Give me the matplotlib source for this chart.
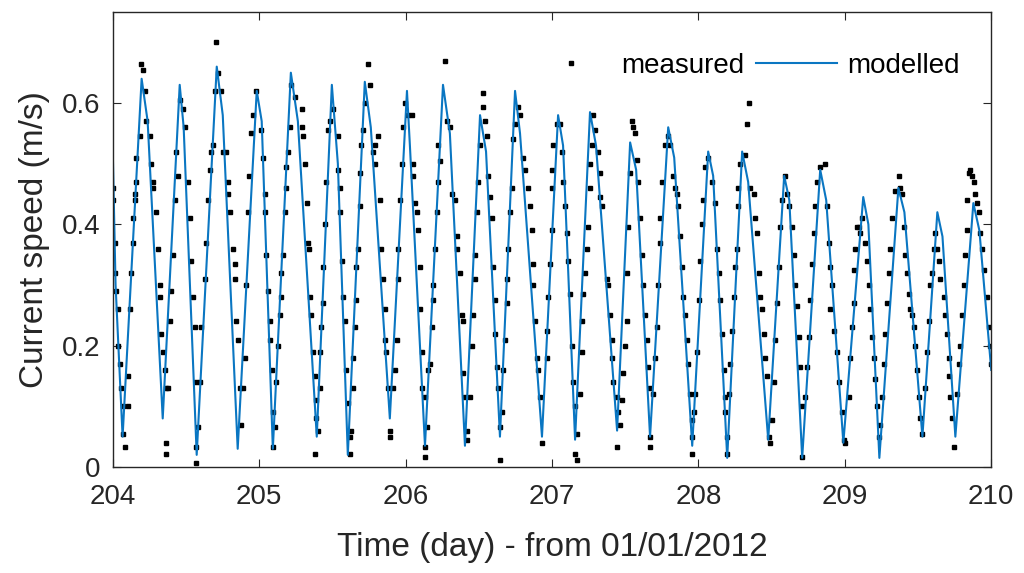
import numpy as np
import matplotlib
matplotlib.use("Agg")
import matplotlib.pyplot as plt

plt.rcParams['font.family'] = ['Liberation Sans', 'DejaVu Sans']

day0 = 204  # days counted from 01/01/2012

# modelled current speed, vertices (day offset from day0, m/s)
mod_t = [0.000, 0.020, 0.068,
         0.198, 0.239, 0.342, 0.458, 0.485, 0.574, 0.711, 0.752, 0.854,
         0.984, 1.018, 1.094, 1.217, 1.265, 1.394, 1.497, 1.538, 1.606,
         1.722, 1.763, 1.893, 2.010, 2.030, 2.133, 2.256, 2.303, 2.406,
         2.509, 2.550, 2.645, 2.748, 2.782, 2.932, 3.042, 3.076, 3.158,
         3.260, 3.301, 3.445, 3.534, 3.575, 3.670, 3.794, 3.835, 3.958,
         4.067, 4.101, 4.197, 4.299, 4.340, 4.477, 4.586, 4.621, 4.709,
         4.832, 4.873, 4.990, 5.126, 5.161, 5.236, 5.366, 5.407, 5.530,
         5.632, 5.667, 5.755, 5.878, 5.919, 6.000]
mod_v = [0.53, 0.30, 0.05,
         0.64, 0.57, 0.08, 0.63, 0.56, 0.02, 0.66, 0.58, 0.03,
         0.62, 0.57, 0.03, 0.65, 0.57, 0.05, 0.63, 0.50, 0.02,
         0.635, 0.56, 0.08, 0.62, 0.53, 0.035, 0.63, 0.55, 0.035,
         0.58, 0.52, 0.05, 0.62, 0.55, 0.05, 0.58, 0.53, 0.045,
         0.585, 0.53, 0.06, 0.535, 0.49, 0.05, 0.56, 0.51, 0.035,
         0.52, 0.48, 0.015, 0.52, 0.47, 0.045, 0.48, 0.44, 0.015,
         0.49, 0.44, 0.04, 0.445, 0.40, 0.015, 0.46, 0.42, 0.05,
         0.42, 0.38, 0.05, 0.435, 0.39, 0.16]

# measured current speed (day offset, m/s)
meas_t = [0.002, 0.002, 0.014, 0.014, 0.025, 0.036, 0.036, 0.048, 0.059, 0.070, 0.070, 0.082,
          0.105, 0.105, 0.116, 0.127, 0.139, 0.139, 0.150, 0.150, 0.162, 0.162, 0.184, 0.196,
          0.207, 0.219, 0.230, 0.253, 0.264, 0.276, 0.276, 0.298, 0.310, 0.321, 0.321, 0.332,
          0.344, 0.355, 0.367, 0.367, 0.367, 0.378, 0.389, 0.401, 0.412, 0.424, 0.435, 0.446,
          0.458, 0.481, 0.492, 0.515, 0.526, 0.537, 0.549, 0.560, 0.572, 0.572, 0.572, 0.583,
          0.594, 0.606, 0.629, 0.640, 0.651, 0.663, 0.674, 0.686, 0.697, 0.708, 0.720, 0.743,
          0.754, 0.777, 0.788, 0.788, 0.799, 0.822, 0.834, 0.834, 0.845, 0.856, 0.868, 0.879,
          0.891, 0.902, 0.913, 0.925, 0.932, 0.948, 0.959, 0.982,
          1.016, 1.028, 1.039, 1.039, 1.050, 1.062, 1.073, 1.073, 1.085, 1.096, 1.107, 1.096,
          1.119, 1.130, 1.141, 1.153, 1.153, 1.164, 1.176, 1.187, 1.187, 1.198, 1.210, 1.221,
          1.244, 1.290, 1.290, 1.301, 1.312, 1.324, 1.335, 1.342, 1.347, 1.358, 1.369, 1.381,
          1.392, 1.392, 1.404, 1.381, 1.415, 1.415, 1.426, 1.438, 1.438, 1.449, 1.460, 1.472,
          1.483, 1.506, 1.540, 1.540, 1.552, 1.552, 1.563, 1.574, 1.586, 1.597, 1.608, 1.620,
          1.620, 1.631, 1.643, 1.643, 1.654, 1.665, 1.665, 1.677, 1.688, 1.688, 1.699, 1.711,
          1.722, 1.745, 1.756, 1.779, 1.791, 1.791, 1.813, 1.825, 1.836, 1.847, 1.859, 1.859,
          1.870, 1.882, 1.893, 1.893, 1.916, 1.927, 1.939, 1.950, 1.950, 1.961, 1.973, 1.984,
          1.996, 2.019, 2.042, 2.053, 2.053, 2.064, 2.076, 2.087, 2.098, 2.098, 2.110, 2.110,
          2.133, 2.133, 2.133, 2.144, 2.155, 2.167, 2.178, 2.189, 2.189, 2.201, 2.212, 2.223,
          2.235, 2.223, 2.269, 2.281, 2.303, 2.315, 2.337, 2.349, 2.349, 2.372, 2.383, 2.394,
          2.394, 2.406, 2.417, 2.417, 2.440, 2.451, 2.463, 2.474, 2.474, 2.486, 2.497, 2.508,
          2.531, 2.531, 2.543, 2.554, 2.565, 2.577, 2.588, 2.600, 2.611, 2.611, 2.622, 2.634,
          2.645, 2.645, 2.656, 2.668, 2.679, 2.691, 2.691, 2.702, 2.713, 2.725, 2.736, 2.748,
          2.770, 2.782, 2.805, 2.816, 2.839, 2.850, 2.861, 2.873, 2.873, 2.884, 2.896, 2.907,
          2.918, 2.930, 2.964, 2.964, 2.975, 2.987, 2.998, 2.998,
          2.998, 3.010, 3.033, 3.055, 3.067, 3.078, 3.089, 3.101, 3.112, 3.124, 3.135, 3.146,
          3.158, 3.169, 3.158, 3.169, 3.192, 3.203, 3.203, 3.215, 3.226, 3.237, 3.249, 3.260,
          3.260, 3.272, 3.283, 3.294, 3.317, 3.329, 3.329, 3.340, 3.374, 3.386, 3.397, 3.408,
          3.408, 3.420, 3.443, 3.454, 3.465, 3.443, 3.477, 3.488, 3.499, 3.511, 3.511, 3.522,
          3.534, 3.545, 3.556, 3.568, 3.579, 3.590, 3.602, 3.613, 3.625, 3.636, 3.647, 3.659,
          3.670, 3.670, 3.670, 3.693, 3.704, 3.716, 3.727, 3.739, 3.739, 3.750, 3.773, 3.795,
          3.807, 3.830, 3.841, 3.852, 3.864, 3.875, 3.887, 3.898, 3.909, 3.921, 3.932, 3.943,
          3.955, 3.955, 3.955,
          3.967, 3.978, 3.990, 4.001, 4.013, 4.024, 4.035, 4.047, 4.069, 4.092, 4.115, 4.126,
          4.138, 4.149, 4.161, 4.172, 4.183, 4.183, 4.195, 4.195, 4.206, 4.218, 4.229, 4.240,
          4.252, 4.263, 4.274, 4.274, 4.286, 4.320, 4.343, 4.331, 4.354, 4.377, 4.388, 4.400,
          4.411, 4.422, 4.434, 4.445, 4.457, 4.468, 4.479, 4.491, 4.502, 4.514, 4.525, 4.536,
          4.548, 4.559, 4.571, 4.593, 4.605, 4.616, 4.639, 4.650, 4.662, 4.673, 4.684, 4.696,
          4.707, 4.707, 4.730, 4.742, 4.753, 4.764, 4.776, 4.787, 4.798, 4.810, 4.833, 4.866,
          4.878, 4.889, 4.901, 4.912,
          4.901, 4.924, 4.946, 4.958, 4.981, 4.992, 5.003, 5.026, 5.038, 5.049, 5.060, 5.060,
          5.072, 5.083, 5.095, 5.106, 5.117, 5.140, 5.152, 5.163, 5.174, 5.186, 5.197, 5.208,
          5.220, 5.231, 5.243, 5.254, 5.266, 5.277, 5.288, 5.300, 5.311, 5.322, 5.345, 5.368,
          5.379, 5.391, 5.402, 5.414, 5.425, 5.436, 5.448, 5.459, 5.470, 5.482, 5.493, 5.505,
          5.516, 5.527, 5.550, 5.562, 5.573, 5.584, 5.596, 5.607, 5.618, 5.630, 5.641, 5.653,
          5.675, 5.687, 5.698, 5.709, 5.709, 5.721, 5.732, 5.744, 5.767, 5.778, 5.789, 5.801,
          5.812, 5.824, 5.835, 5.835, 5.846, 5.858, 5.869, 5.880, 5.892, 5.903, 5.915, 5.926,
          5.937, 5.949, 5.972, 5.983, 5.994, 5.998]
meas_v = [0.46, 0.44, 0.37, 0.32, 0.29, 0.26, 0.20, 0.17, 0.13, 0.10, 0.055, 0.033,
          0.10, 0.15, 0.26, 0.32, 0.41, 0.37, 0.44, 0.45, 0.47, 0.51, 0.545, 0.665,
          0.655, 0.62, 0.57, 0.545, 0.50, 0.47, 0.46, 0.42, 0.36, 0.30, 0.28, 0.22,
          0.19, 0.16, 0.13, 0.04, 0.022, 0.13, 0.24, 0.29, 0.35, 0.44, 0.52, 0.48,
          0.605, 0.59, 0.56, 0.47, 0.41, 0.34, 0.28, 0.23, 0.14, 0.033, 0.006, 0.066,
          0.14, 0.23, 0.31, 0.37, 0.44, 0.49, 0.52, 0.53, 0.62, 0.70, 0.65, 0.62,
          0.52, 0.52, 0.45, 0.47, 0.42, 0.36, 0.335, 0.31, 0.24, 0.21, 0.13, 0.07,
          0.13, 0.18, 0.30, 0.42, 0.48, 0.55, 0.58, 0.62,
          0.555, 0.51, 0.45, 0.42, 0.35, 0.29, 0.24, 0.21, 0.16, 0.09, 0.066, 0.033,
          0.14, 0.20, 0.25, 0.28, 0.32, 0.35, 0.42, 0.46, 0.495, 0.52, 0.56, 0.63,
          0.61, 0.59, 0.56, 0.545, 0.50, 0.435, 0.37, 0.36, 0.28, 0.25, 0.19, 0.15,
          0.11, 0.08, 0.06, 0.022, 0.13, 0.19, 0.23, 0.27, 0.33, 0.40, 0.47, 0.555,
          0.57, 0.59, 0.545, 0.49, 0.46, 0.42, 0.34, 0.28, 0.24, 0.16, 0.105, 0.05,
          0.022, 0.06, 0.13, 0.18, 0.23, 0.275, 0.33, 0.36, 0.43, 0.485, 0.53, 0.555,
          0.60, 0.665, 0.63, 0.52, 0.50, 0.53, 0.545, 0.44, 0.36, 0.31, 0.26, 0.21,
          0.19, 0.13, 0.06, 0.05, 0.13, 0.16, 0.21, 0.31, 0.36, 0.44, 0.50, 0.56,
          0.60, 0.58, 0.58, 0.50, 0.48, 0.435, 0.42, 0.39, 0.33, 0.26, 0.19, 0.13,
          0.115, 0.033, 0.017, 0.066, 0.16, 0.17, 0.23, 0.275, 0.30, 0.36, 0.42, 0.47,
          0.505, 0.53, 0.67, 0.57, 0.56, 0.45, 0.44, 0.38, 0.36, 0.32, 0.25, 0.24,
          0.155, 0.115, 0.06, 0.044, 0.115, 0.20, 0.25, 0.31, 0.35, 0.42, 0.47, 0.53,
          0.616, 0.594, 0.57, 0.545, 0.48, 0.445, 0.41, 0.33, 0.275, 0.22, 0.165, 0.13,
          0.066, 0.011, 0.09, 0.16, 0.21, 0.27, 0.31, 0.36, 0.42, 0.46, 0.54, 0.566,
          0.594, 0.58, 0.51, 0.49, 0.46, 0.43, 0.39, 0.335, 0.30, 0.24, 0.18, 0.16,
          0.115, 0.04, 0.18, 0.225, 0.28, 0.335, 0.39, 0.46,
          0.49, 0.53, 0.566, 0.566, 0.52, 0.47, 0.43, 0.385, 0.34, 0.285, 0.20, 0.14,
          0.10, 0.055, 0.022, 0.011, 0.12, 0.19, 0.24, 0.285, 0.32, 0.36, 0.395, 0.46,
          0.50, 0.53, 0.58, 0.555, 0.52, 0.485, 0.445, 0.43, 0.31, 0.30, 0.25, 0.21,
          0.18, 0.14, 0.115, 0.09, 0.07, 0.033, 0.11, 0.155, 0.20, 0.24, 0.32, 0.395,
          0.485, 0.57, 0.56, 0.55, 0.506, 0.47, 0.41, 0.35, 0.30, 0.25, 0.21, 0.165,
          0.13, 0.05, 0.033, 0.12, 0.18, 0.23, 0.30, 0.37, 0.41, 0.47, 0.53, 0.545,
          0.53, 0.48, 0.46, 0.45, 0.43, 0.38, 0.33, 0.28, 0.25, 0.21, 0.17, 0.12,
          0.077, 0.05, 0.022,
          0.09, 0.12, 0.19, 0.275, 0.34, 0.40, 0.44, 0.495, 0.51, 0.47, 0.435, 0.36,
          0.32, 0.275, 0.22, 0.16, 0.115, 0.09, 0.05, 0.022, 0.12, 0.17, 0.225, 0.28,
          0.33, 0.36, 0.43, 0.46, 0.50, 0.515, 0.60, 0.566, 0.46, 0.45, 0.41, 0.385,
          0.32, 0.28, 0.26, 0.22, 0.18, 0.15, 0.05, 0.04, 0.077, 0.14, 0.21, 0.27,
          0.33, 0.395, 0.44, 0.48, 0.45, 0.43, 0.395, 0.35, 0.30, 0.265, 0.215, 0.165,
          0.10, 0.017, 0.115, 0.165, 0.215, 0.275, 0.335, 0.385, 0.43, 0.47, 0.495, 0.50,
          0.43, 0.37, 0.33, 0.30,
          0.26, 0.225, 0.19, 0.14, 0.09, 0.044, 0.04, 0.115, 0.18, 0.23, 0.27, 0.325,
          0.36, 0.395, 0.395, 0.385, 0.41, 0.37, 0.34, 0.30, 0.26, 0.215, 0.18, 0.145,
          0.10, 0.05, 0.07, 0.115, 0.17, 0.22, 0.27, 0.32, 0.36, 0.41, 0.455, 0.48,
          0.46, 0.45, 0.395, 0.35, 0.32, 0.285, 0.26, 0.25, 0.23, 0.20, 0.16, 0.115,
          0.08, 0.055, 0.13, 0.19, 0.24, 0.30, 0.32, 0.36, 0.385, 0.36, 0.34, 0.31,
          0.28, 0.25, 0.22, 0.18, 0.15, 0.115, 0.08, 0.033, 0.12, 0.17, 0.20, 0.25,
          0.30, 0.35, 0.39, 0.44, 0.485, 0.49, 0.48, 0.47, 0.45, 0.435, 0.42, 0.385,
          0.36, 0.325, 0.28, 0.23, 0.20, 0.17]

x_ticks = [204, 205, 206, 207, 208, 209, 210]
y_ticks = [0, 0.2, 0.4, 0.6]
y_tick_labels = ['0', '0.2', '0.4', '0.6']

fig = plt.figure(figsize=(10.24, 5.73), dpi=100)
ax = fig.add_axes([0.110, 0.185, 0.858, 0.794])

ax.plot(day0 + np.array(meas_t), meas_v, linestyle='none', marker='s', markersize=2.2,
        color='black', label='measured')
ax.plot(day0 + np.array(mod_t), mod_v, color='#0a76c2', linewidth=1.5, label='modelled')

ax.set_xlim(204, 210)
ax.set_ylim(0, 0.75)
ax.set_xticks(x_ticks)
ax.set_yticks(y_ticks)
ax.set_yticklabels(y_tick_labels)
ax.tick_params(direction='in', top=True, right=True, labelsize=20, length=6, colors='#262626')
ax.tick_params(axis='x', pad=12)
ax.tick_params(axis='y', pad=9)
for sp in ax.spines.values():
    sp.set_color('#262626')
    sp.set_linewidth(1.0)

ax.set_xlabel('Time (day) - from 01/01/2012', fontsize=24, color='#262626', labelpad=16)
ax.set_ylabel('Current speed (m/s)', fontsize=24, color='#262626', labelpad=8)

ax.legend(loc='center right', ncol=2, frameon=False, fontsize=20, markerscale=1.0,
          handlelength=2.9, columnspacing=0.45, handletextpad=0.35,
          bbox_to_anchor=(0.992, 0.882))

fig.savefig('out.png', dpi=100)
